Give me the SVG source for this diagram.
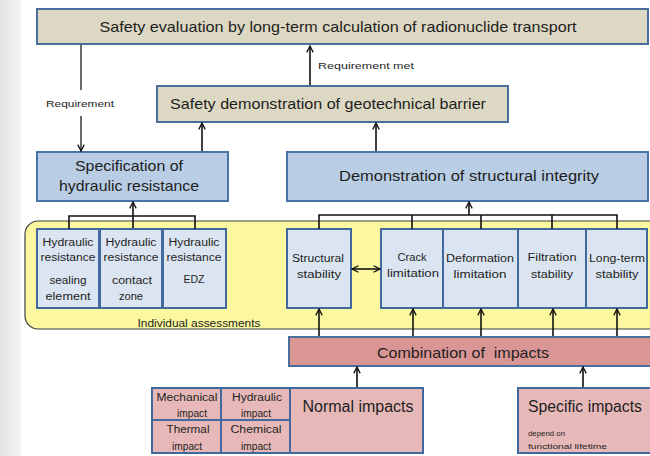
<svg xmlns="http://www.w3.org/2000/svg" width="650" height="456" viewBox="0 0 650 456">
<defs>
<linearGradient id="bgstrip" x1="0" y1="0" x2="1" y2="0">
<stop offset="0" stop-color="#e4e4e4"/>
<stop offset="0.7" stop-color="#eeeeee"/>
<stop offset="1" stop-color="#f6f6f6"/>
</linearGradient>
<marker id="ah" viewBox="0 0 10 10" refX="9" refY="5" markerWidth="8" markerHeight="8" markerUnits="userSpaceOnUse" orient="auto-start-reverse">
<path d="M1,1 L9,5 L1,9" fill="none" stroke="#111" stroke-width="1.6"/>
</marker>
</defs>
<style>
text{font-family:"Liberation Sans",Arial,sans-serif;fill:#1e1e1e;text-anchor:middle}
.tan{fill:#ddd8c3;stroke:#4a6d9c;stroke-width:2}
.blue{fill:#b9cde5;stroke:#4a74a8;stroke-width:2}
.lblue{fill:#dbe5f1;stroke:#41699e;stroke-width:2}
.red{fill:#d99694;stroke:#4a6d9c;stroke-width:2}
.pink{fill:#e6b9b8;stroke:#41699e;stroke-width:2}
.yel{fill:#fbf8a0;stroke:#3f3f3f;stroke-width:1.2}
.big{font-size:15px}
.med{font-size:14px}
.sm{font-size:10px}
.xs{font-size:9.5px}
.tiny{font-size:7px;text-anchor:start}
.con line,.con polyline{stroke:#111;stroke-width:1.6;fill:none}
.arr{marker-end:url(#ah)}
</style>
<rect x="0" y="0" width="650" height="456" fill="#ffffff"/>
<rect x="0" y="0" width="21" height="456" fill="url(#bgstrip)"/>

<g id="safety-evaluation">
<rect class="tan" x="37" y="9" width="611" height="35"/>
<text class="big" x="338" y="32" textLength="477" lengthAdjust="spacingAndGlyphs">Safety evaluation by long-term calculation of radionuclide transport</text>
</g>

<g id="safety-demonstration">
<rect class="tan" x="157" y="86" width="351" height="36"/>
<text class="big" x="328" y="109" textLength="316" lengthAdjust="spacingAndGlyphs">Safety demonstration of geotechnical barrier</text>
</g>

<g id="specification">
<rect class="blue" x="37" y="152" width="191" height="49"/>
<text class="big" x="129" y="171" textLength="108" lengthAdjust="spacingAndGlyphs">Specification of</text>
<text class="big" x="129" y="191" textLength="140" lengthAdjust="spacingAndGlyphs">hydraulic resistance</text>
</g>

<g id="demonstration">
<rect class="blue" x="287" y="152" width="361" height="49"/>
<text class="med" x="469" y="181" textLength="260" lengthAdjust="spacingAndGlyphs">Demonstration of structural integrity</text>
</g>

<g id="individual-assessments">
<rect class="yel" x="25" y="221" width="640" height="108" rx="13" ry="13"/>
<text class="sm" x="199" y="327" textLength="123" lengthAdjust="spacingAndGlyphs">Individual assessments</text>
</g>

<g id="hr-sealing">
<rect class="lblue" x="37" y="229" width="62" height="79"/>
<text class="sm" x="68" y="246" textLength="51" lengthAdjust="spacingAndGlyphs">Hydraulic</text>
<text class="sm" x="68" y="261" textLength="55" lengthAdjust="spacingAndGlyphs">resistance</text>
<text class="sm" x="68" y="284" textLength="37" lengthAdjust="spacingAndGlyphs">sealing</text>
<text class="sm" x="68" y="300" textLength="45" lengthAdjust="spacingAndGlyphs">element</text>
</g>

<g id="hr-contact">
<rect class="lblue" x="100" y="229" width="62" height="79"/>
<text class="sm" x="131" y="246" textLength="51" lengthAdjust="spacingAndGlyphs">Hydraulic</text>
<text class="sm" x="131" y="261" textLength="55" lengthAdjust="spacingAndGlyphs">resistance</text>
<text class="sm" x="132" y="284" textLength="40" lengthAdjust="spacingAndGlyphs">contact</text>
<text class="sm" x="131" y="300" textLength="24" lengthAdjust="spacingAndGlyphs">zone</text>
</g>

<g id="hr-edz">
<rect class="lblue" x="163" y="229" width="63" height="79"/>
<text class="sm" x="194" y="246" textLength="51" lengthAdjust="spacingAndGlyphs">Hydraulic</text>
<text class="sm" x="194" y="261" textLength="55" lengthAdjust="spacingAndGlyphs">resistance</text>
<text class="sm" x="194" y="283" textLength="21" lengthAdjust="spacingAndGlyphs">EDZ</text>
</g>

<g id="structural-stability">
<rect class="lblue" x="287" y="229" width="64" height="79"/>
<text class="sm" x="318" y="262" textLength="52" lengthAdjust="spacingAndGlyphs">Structural</text>
<text class="sm" x="319" y="278" textLength="44" lengthAdjust="spacingAndGlyphs">stability</text>
</g>

<g id="crack-limitation">
<rect class="lblue" x="381" y="229" width="62" height="79"/>
<text class="sm" x="412" y="261" textLength="29" lengthAdjust="spacingAndGlyphs">Crack</text>
<text class="sm" x="413" y="277" textLength="52" lengthAdjust="spacingAndGlyphs">limitation</text>
</g>

<g id="deformation-limitation">
<rect class="lblue" x="443" y="229" width="75" height="79"/>
<text class="sm" x="480" y="262" textLength="68" lengthAdjust="spacingAndGlyphs">Deformation</text>
<text class="sm" x="480" y="278" textLength="53" lengthAdjust="spacingAndGlyphs">limitation</text>
</g>

<g id="filtration-stability">
<rect class="lblue" x="518" y="229" width="68" height="79"/>
<text class="sm" x="552" y="261" textLength="49" lengthAdjust="spacingAndGlyphs">Filtration</text>
<text class="sm" x="552" y="278" textLength="42" lengthAdjust="spacingAndGlyphs">stability</text>
</g>

<g id="long-term-stability">
<rect class="lblue" x="586" y="229" width="61" height="79"/>
<text class="sm" x="617" y="262" textLength="56" lengthAdjust="spacingAndGlyphs">Long-term</text>
<text class="sm" x="617" y="278" textLength="43" lengthAdjust="spacingAndGlyphs">stability</text>
</g>

<g id="combination">
<rect class="red" x="289" y="337" width="365" height="29"/>
<text class="big" x="463" y="358" textLength="172" lengthAdjust="spacingAndGlyphs" xml:space="preserve">Combination of  impacts</text>
</g>

<g id="impact-grid">
<rect class="pink" x="152" y="388" width="69" height="32"/>
<rect class="pink" x="221" y="388" width="69" height="32"/>
<rect class="pink" x="152" y="420" width="69" height="33"/>
<rect class="pink" x="221" y="420" width="69" height="33"/>
<text class="sm" x="187" y="401" textLength="61" lengthAdjust="spacingAndGlyphs">Mechanical</text>
<text class="sm" x="192" y="417" textLength="30" lengthAdjust="spacingAndGlyphs">impact</text>
<text class="sm" x="257" y="401" textLength="50" lengthAdjust="spacingAndGlyphs">Hydraulic</text>
<text class="sm" x="256" y="417" textLength="30" lengthAdjust="spacingAndGlyphs">impact</text>
<text class="sm" x="188" y="433" textLength="43" lengthAdjust="spacingAndGlyphs">Thermal</text>
<text class="sm" x="187" y="450" textLength="30" lengthAdjust="spacingAndGlyphs">impact</text>
<text class="sm" x="256" y="433" textLength="51" lengthAdjust="spacingAndGlyphs">Chemical</text>
<text class="sm" x="256" y="450" textLength="30" lengthAdjust="spacingAndGlyphs">impact</text>
</g>

<g id="normal-impacts">
<rect class="pink" x="290" y="388" width="133" height="65"/>
<text x="358" y="412" font-size="16" textLength="111" lengthAdjust="spacingAndGlyphs">Normal impacts</text>
</g>

<g id="specific-impacts">
<rect class="pink" x="518" y="388" width="136" height="65"/>
<text x="585" y="412" font-size="16" textLength="114" lengthAdjust="spacingAndGlyphs">Specific impacts</text>
<text class="tiny" x="528" y="436" textLength="37" lengthAdjust="spacingAndGlyphs">depend on</text>
<text class="tiny" x="528" y="449" textLength="79" lengthAdjust="spacingAndGlyphs">functional lifetime</text>
</g>

<g id="connectors" class="con">
<line x1="81" y1="45" x2="81" y2="90" style="stroke:#444"/>
<line class="arr" x1="81" y1="116" x2="81" y2="151" style="stroke:#444"/>
<text class="xs" x="80" y="107" textLength="68" lengthAdjust="spacingAndGlyphs">Requirement</text>
<line class="arr" x1="310" y1="85" x2="310" y2="46"/>
<text class="xs" x="366" y="69" textLength="96" lengthAdjust="spacingAndGlyphs">Requirement met</text>
<line class="arr" x1="202" y1="151" x2="202" y2="123"/>
<line class="arr" x1="376" y1="151" x2="376" y2="123"/>
<polyline points="69,229 69,216 195,216 195,229"/>
<line class="arr" x1="133" y1="228" x2="133" y2="202"/>
<polyline points="319,229 319,215 617,215 617,229"/>
<line x1="412" y1="215" x2="412" y2="229"/>
<line x1="481" y1="215" x2="481" y2="229"/>
<line x1="552" y1="215" x2="552" y2="229"/>
<line class="arr" x1="469" y1="215" x2="469" y2="202"/>
<line x1="352" y1="269" x2="380" y2="269" marker-start="url(#ah)" marker-end="url(#ah)"/>
<line class="arr" x1="319" y1="336" x2="319" y2="309"/>
<line class="arr" x1="413" y1="336" x2="413" y2="309"/>
<line class="arr" x1="481" y1="336" x2="481" y2="309"/>
<line class="arr" x1="553" y1="336" x2="553" y2="309"/>
<line class="arr" x1="617" y1="336" x2="617" y2="309"/>
<line class="arr" x1="357" y1="387" x2="357" y2="367"/>
<line class="arr" x1="583" y1="387" x2="583" y2="367"/>
</g>
</svg>
